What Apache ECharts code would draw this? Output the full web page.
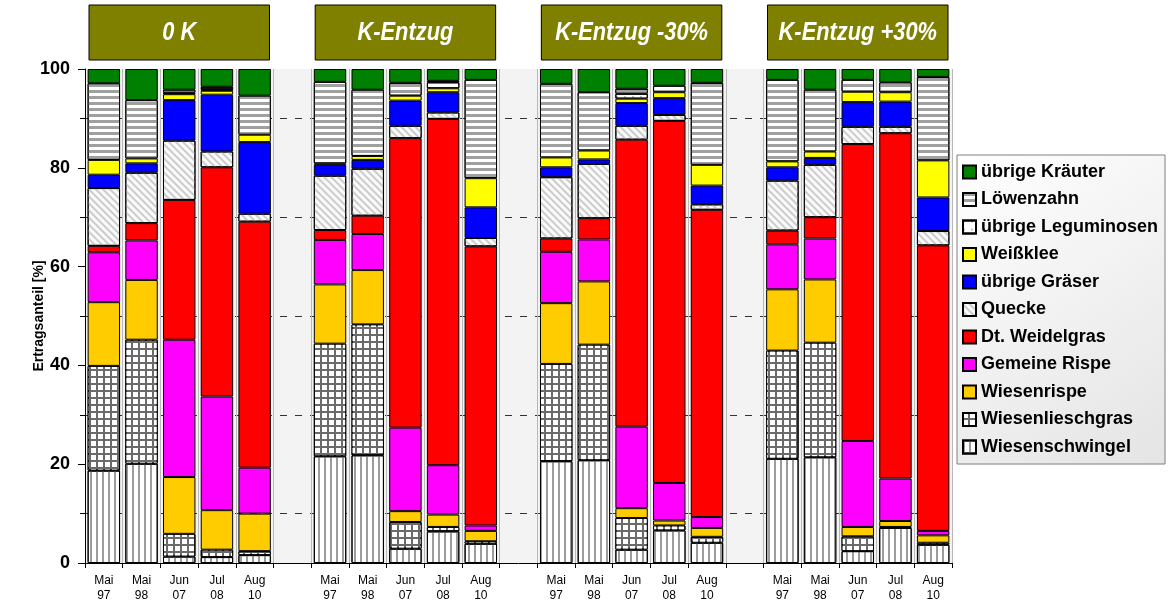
<!DOCTYPE html>
<html><head><meta charset="utf-8">
<script src="https://cdn.jsdelivr.net/npm/echarts@6/dist/echarts.min.js"></script>
<style>html,body{margin:0;padding:0;background:#fff}#c{width:1174px;height:610px}</style>
</head><body><div id="c"></div>
<script>
// ---- data ----
const groups = ['0 K', 'K-Entzug', 'K-Entzug -30%', 'K-Entzug +30%'];
const months = ['Mai\n97', 'Mai\n98', 'Jun\n07', 'Jul\n08', 'Aug\n10'];
const yTicks = [0, 20, 40, 60, 80, 100];
// values per series: 4 groups x 5 dates
const wiesenschwingel   = [18.7,20.1,1.3,1.2,1.6, 21.6,21.8,2.9,6.4,3.9, 20.6,20.8,2.7,6.6,4.1, 21.1,21.4,2.4,7.1,3.7];
const wiesenlieschgras  = [21.2,25.1,4.6,1.5,0.8, 22.8,26.5,5.4,0.9,0.5, 19.7,23.4,6.4,1.0,1.2, 21.9,23.2,3.0,0.2,0.4];
const wiesenrispe       = [12.9,12.1,11.5,8.0,7.6, 12.0,11.0,2.2,2.5,2.1, 12.3,12.8,2.0,1.0,1.8, 12.4,12.8,1.9,1.2,1.5];
const gemeineRispe      = [10.1,8.0,27.8,23.0,9.3, 9.0,7.3,16.9,10.0,1.1, 10.4,8.5,16.5,7.6,2.2, 9.1,8.3,17.4,8.6,0.9];
const weidelgras        = [1.3,3.5,28.3,46.4,49.8, 2.0,3.7,58.6,70.1,56.5, 2.7,4.3,58.1,73.3,62.2, 2.8,4.3,60.1,69.9,57.8];
const quecke            = [11.7,10.2,12.0,3.2,1.6, 11.0,9.5,2.5,1.3,1.7, 12.4,11.0,2.8,1.2,1.1, 10.1,10.6,3.5,1.3,2.9];
const uebrigeGraeser    = [2.7,1.9,8.2,11.5,14.5, 2.2,1.8,5.1,4.1,6.2, 2.0,0.9,4.6,3.4,3.8, 2.7,1.4,5.0,5.1,6.8];
const weissklee         = [3.0,1.0,1.2,0.8,1.5, 0.3,0.8,1.0,0.8,5.9, 2.0,1.8,0.9,1.2,4.2, 1.2,1.3,2.1,1.9,7.5];
const uebrigeLeguminosen= [0,0,0.3,0.3,0, 0,0,0,1.2,0, 0,0,1.0,0,0, 0,0,0,0,0];
const loewenzahn        = [15.5,11.8,0.6,0.5,7.9, 16.5,13.4,2.6,0.3,19.9, 14.9,11.8,1.0,1.3,16.6, 16.5,12.5,2.4,2.0,16.9];
const uebrigeKraeuter   = [2.9,6.3,4.2,3.6,5.4, 2.6,4.2,2.8,2.4,2.2, 3.0,4.7,4.0,3.4,2.8, 2.2,4.2,2.2,2.7,1.6];

const seriesDefs = [
  ['Wiesenschwingel', wiesenschwingel],
  ['Wiesenlieschgras', wiesenlieschgras],
  ['Wiesenrispe', wiesenrispe],
  ['Gemeine Rispe', gemeineRispe],
  ['Dt. Weidelgras', weidelgras],
  ['Quecke', quecke],
  ['übrige Gräser', uebrigeGraeser],
  ['Weißklee', weissklee],
  ['übrige Leguminosen', uebrigeLeguminosen],
  ['Löwenzahn', loewenzahn],
  ['übrige Kräuter', uebrigeKraeuter]
];

// ---- styles ----
const FONT = 'Arial, "Liberation Sans", sans-serif';
const styles = {
  'Wiesenschwingel': {color:'#ffffff', decal:{symbol:'rect', symbolSize:1, symbolKeepAspect:false, color:'#9c9c9c', dashArrayX:[2,4], dashArrayY:[6,0]}},
  'Wiesenlieschgras': {color:'#6a6a6a', decal:{symbol:'rect', symbolSize:1, symbolKeepAspect:false, color:'#ffffff', dashArrayX:[5,2], dashArrayY:[5,2]}},
  'Wiesenrispe': {color:'#FFCC00'},
  'Gemeine Rispe': {color:'#FF00FF'},
  'Dt. Weidelgras': {color:'#FF0000'},
  'Quecke': {color:'#fafafa', decal:{symbol:'rect', symbolSize:1, symbolKeepAspect:false, color:'#cccccc', dashArrayX:[6,0], dashArrayY:[2,3], rotation:Math.PI/4}},
  'übrige Gräser': {color:'#0000FF'},
  'Weißklee': {color:'#FFFF00'},
  'übrige Leguminosen': {color:'#ffffff', decal:{symbol:'rect', symbolSize:0.5, color:'#000000', dashArrayX:[2,6], dashArrayY:[2,6]}},
  'Löwenzahn': {color:'#ffffff', decal:{symbol:'rect', symbolSize:1, symbolKeepAspect:false, color:'#a0a0a0', dashArrayX:[6,0], dashArrayY:[3,3]}},
  'übrige Kräuter': {color:'#008000'}
};

// ---- build categories / data ----
const categories = [];
groups.forEach((g, gi) => {
  months.forEach(m => categories.push(m));
  if (gi < groups.length - 1) categories.push('');
});
function expand(arr) {
  const out = [];
  groups.forEach((g, gi) => {
    for (let b = 0; b < months.length; b++) {
      const v = arr[gi * months.length + b];
      out.push(v > 0 ? v : '-');
    }
    if (gi < groups.length - 1) out.push('-');
  });
  return out;
}

const series = seriesDefs.map(([name, arr]) => {
  const st = styles[name];
  const itemStyle = {color: st.color, borderColor:'#000', borderWidth:1};
  if (st.decal) itemStyle.decal = st.decal;
  return {
    name, type:'bar', stack:'total', barWidth:'86%', data: expand(arr),
    itemStyle, emphasis:{disabled:true}, silent:true
  };
});

const chart = echarts.init(document.getElementById('c'), null, {renderer:'canvas'});
const option = {
  animation:false,
  textStyle:{fontFamily:FONT},
  grid:{left:85, right:222, top:69, bottom:47, show:true, backgroundColor:'#f3f3f3', borderWidth:0},
  legend:{
    orient:'vertical', left:957, top:155,
    data: seriesDefs.map(d => d[0]).reverse(),
    icon:'rect', itemWidth:13, itemHeight:13, itemGap:9.5,
    padding:[8,7,8,5],
    selectedMode:false,
    textStyle:{fontSize:18, fontWeight:'bold', color:'#000', fontFamily:FONT},
    borderColor:'#808080', borderWidth:1,
    backgroundColor:{type:'linear', x:0, y:0, x2:1, y2:1, colorStops:[{offset:0,color:'#ffffff'},{offset:1,color:'#e4e4e4'}]}
  },
  xAxis:{
    type:'category', data:categories,
    axisLine:{lineStyle:{color:'#000', width:1}},
    axisTick:{show:true, interval:0, length:5, lineStyle:{color:'#000'}},
    axisLabel:{interval:0, fontSize:12, color:'#000', lineHeight:15, margin:10, fontFamily:FONT},
    splitLine:{show:true, interval:0, lineStyle:{color:'#b8b8b8', width:1}}
  },
  yAxis:{
    type:'value', min:yTicks[0], max:yTicks[yTicks.length-1], interval:20,
    name:'Ertragsanteil [%]', nameLocation:'middle', nameGap:39, nameMoveOverlap:false,
    nameTextStyle:{fontSize:14, fontWeight:'bold', color:'#000', fontFamily:FONT},
    axisLine:{show:true, lineStyle:{color:'#000', width:1}},
    axisTick:{show:true, length:7, lineStyle:{color:'#000'}},
    minorTick:{show:true, splitNumber:2, length:5, lineStyle:{color:'#000'}},
    axisLabel:{fontSize:18, fontWeight:'bold', color:'#000', margin:15, fontFamily:FONT},
    splitLine:{show:false},
    minorSplitLine:{show:true, lineStyle:{color:'#333', type:[7,8], width:1}}
  },
  series
};
chart.setOption(option);

// header boxes over each group
const c0 = chart.convertToPixel({xAxisIndex:0}, 0);
const c1 = chart.convertToPixel({xAxisIndex:0}, 1);
const slot = c1 - c0;
const graphics = [];
groups.forEach((g, gi) => {
  const first = gi * (months.length + 1);
  const last = first + months.length - 1;
  const x1 = chart.convertToPixel({xAxisIndex:0}, first) - slot/2 + 4;
  const x2 = chart.convertToPixel({xAxisIndex:0}, last) + slot/2 - 4;
  graphics.push({
    type:'rect', shape:{x:x1, y:5, width:x2-x1, height:55},
    style:{fill:'#808000', stroke:'#000', lineWidth:1}, silent:true
  });
  graphics.push({
    type:'text', x:(x1+x2)/2, y:32.5, scaleX:0.84,
    style:{text:g, fill:'#fff', font:'italic bold 26px ' + FONT, align:'center', verticalAlign:'middle'},
    silent:true
  });
});
chart.setOption({graphic:graphics});
</script></body></html>
